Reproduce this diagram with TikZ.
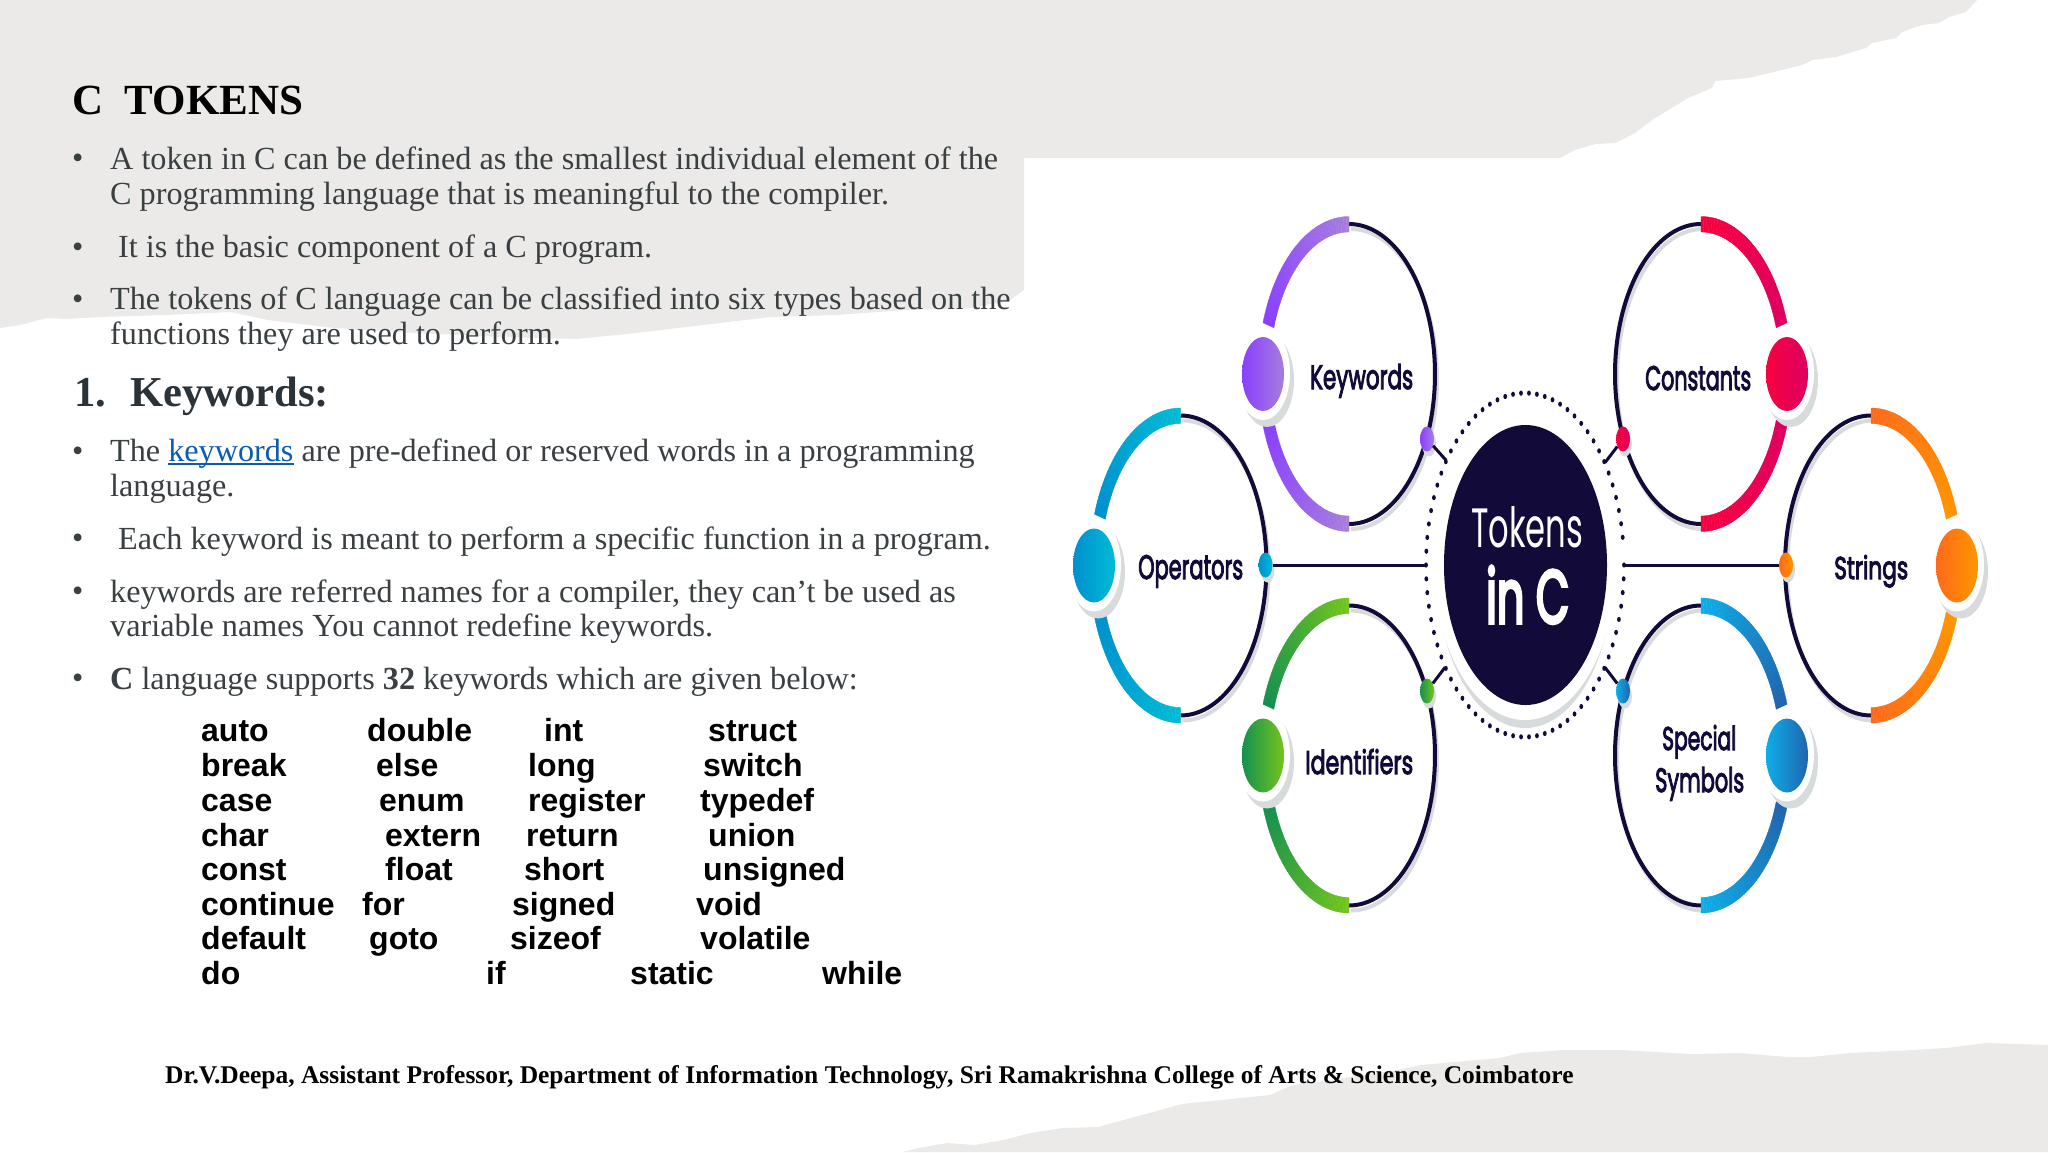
\documentclass[tikz,border=0pt]{standalone}
\usepackage{fontspec}
\usepackage{graphicx}
\usetikzlibrary{shapes.geometric}
\setmainfont{Liberation Serif}
\setsansfont{Liberation Sans}
\newfontfamily\labfont{Poppins}
\newfontfamily\labsemi[FakeBold=3.5]{Poppins}
\newfontfamily\labheavy[FakeBold=5]{Poppins}
\definecolor{paper}{HTML}{EBEAE8}
\definecolor{navy}{HTML}{120A38}
\definecolor{bodyc}{HTML}{3A3F42}
\definecolor{headc}{HTML}{2B3238}
\definecolor{linkc}{HTML}{0B5CAD}
\definecolor{softgrey}{HTML}{D8DBDC}
\definecolor{kwA}{HTML}{8A3FFF}\definecolor{kwB}{HTML}{A67EDC}
\definecolor{opA}{HTML}{0090CE}\definecolor{opB}{HTML}{00BBD5}
\definecolor{idA}{HTML}{159050}\definecolor{idB}{HTML}{72C51C}
\definecolor{coA}{HTML}{F70040}\definecolor{coB}{HTML}{DE0060}
\definecolor{stA}{HTML}{FF6A1A}\definecolor{stB}{HTML}{FF9500}
\definecolor{spA}{HTML}{0DAEE8}\definecolor{spB}{HTML}{2065AE}
\newlength\ulinkw
\newcommand\ulink[1]{\settowidth\ulinkw{#1}\rlap{\rule[-3.5pt]{\ulinkw}{2pt}}#1}
% thick tapered arc: cx cy t-from t-to colour-from colour-to
\newcommand\ringarc[6]{%
  \foreach \i in {0,...,39}{%
    \pgfmathsetmacro\ta{#3+(#4-#3)*\i/40}%
    \pgfmathsetmacro\tb{#3+(#4-#3)*(\i+1)/40}%
    \pgfmathsetmacro\pct{100*\i/39}%
    \colorlet{segc}{#6!\pct!#5}%
    \fill[segc,draw=segc,line width=.3pt] ({#1+91*cos(\ta)},{#2+157.5*sin(\ta)}) -- ({#1+91*cos(\tb)},{#2+157.5*sin(\tb)}) -- ({#1+79.5*cos(\tb)},{#2+142*sin(\tb)}) -- ({#1+79.5*cos(\ta)},{#2+142*sin(\ta)}) -- cycle;
  }}
% ring with thick part on the left: cx cy colour-gap colour-top
\newcommand\leftring[4]{%
  \draw[softgrey,line width=4pt] plot[domain=-90:90,samples=70] ({#1+2+86*cos(\x)},{#2+5+150*sin(\x)});
  \draw[navy,line width=4pt] plot[domain=-90:90,samples=70] ({#1+86*cos(\x)},{#2+150*sin(\x)});
  \ringarc{#1}{#2}{199}{270}{#3}{#4}
  \ringarc{#1}{#2}{161}{90}{#3}{#4}}
\newcommand\rightring[4]{%
  \draw[softgrey,line width=4pt] plot[domain=90:270,samples=70] ({#1+2+86*cos(\x)},{#2+5+150*sin(\x)});
  \draw[navy,line width=4pt] plot[domain=90:270,samples=70] ({#1+86*cos(\x)},{#2+150*sin(\x)});
  \ringarc{#1}{#2}{-19}{-90}{#3}{#4}
  \ringarc{#1}{#2}{19}{90}{#3}{#4}}
% fitted condensed label: width height text
\newcommand\fitb[3]{\resizebox{#1pt}{#2pt}{\labsemi #3}}
\tikzset{
  x=1pt,y=-1pt,
  body/.style={inner sep=0pt,anchor=base west,text=bodyc,font=\fontsize{32.2}{36}\selectfont},
  bul/.style={inner sep=0pt,anchor=base west,text=bodyc,font=\fontsize{32.2}{36}\selectfont},
  kw/.style={inner sep=0pt,anchor=base west,text=black,font=\sffamily\bfseries\fontsize{32}{36}\selectfont},
  lab/.style={inner sep=0pt,anchor=base west,text=navy},
  bigdot/.style={ellipse,inner sep=0pt,minimum width=42pt,minimum height=74pt},
  halo/.style={ellipse,inner sep=0pt,minimum width=54pt,minimum height=94pt,fill=#1},
  smalldot/.style={ellipse,inner sep=0pt,minimum width=14pt,minimum height=25pt},
  smallshadow/.style={ellipse,inner sep=0pt,minimum width=14pt,minimum height=25pt,fill=softgrey},
  conn/.style={navy,line width=3pt},
}
\begin{document}
\begin{tikzpicture}
\useasboundingbox (0,0) rectangle (2048,1152);
\fill[white] (0,0) rectangle (2048,1152);
% torn paper, top
\fill[paper] (0,0) -- (1977,0) -- (1966,12) -- (1949,17) -- (1939,23) -- (1922,25) -- (1902,32) -- (1896,38) -- (1872,43) -- (1866,48) -- (1836,57) -- (1812,60) -- (1802,65) -- (1749,78) -- (1715,81) -- (1712,88) -- (1688,98) -- (1652,120) -- (1635,133) -- (1615,143) -- (1595,144) -- (1575,150) -- (1560,158) -- (1024,158) -- (1024,290) -- (1010,300) -- (971,308) -- (904,310) -- (837,315) -- (770,317) -- (703,325) -- (636,333) -- (576,339) -- (502,337) -- (415,333) -- (335,328) -- (268,320) -- (231,312) -- (167,315) -- (100,317) -- (67,319) -- (47,318) -- (20,325) -- (0,328) -- cycle;
% torn paper, bottom
\fill[paper] (2048,1152) -- (2048,1045) -- (1986,1043) -- (1946,1048) -- (1914,1050) -- (1851,1053) -- (1811,1057) -- (1787,1057) -- (1739,1053) -- (1691,1054) -- (1620,1050) -- (1564,1050) -- (1520,1053) -- (1500,1058) -- (1421,1065) -- (1397,1070) -- (1317,1082) -- (1293,1085) -- (1270,1095) -- (1222,1100) -- (1182,1104) -- (1142,1115) -- (1098,1127) -- (1063,1128) -- (1031,1133) -- (1003,1140) -- (975,1145) -- (947,1143) -- (919,1148) -- (903,1152) -- cycle;

% ---------- left column text
\node[inner sep=0pt,anchor=base west,text=black,font=\bfseries\fontsize{43}{46}\selectfont] (title) at (72,114) {C\ \ TOKENS};
\node[bul] (b1) at (72,168) {\textbullet};
\node[body] (t1a) at (110,169) {A token in C can be defined as the smallest individual element of the};
\node[body] (t1b) at (110,204) {C programming language that is meaningful to the compiler.};
\node[bul] (b2) at (72,257) {\textbullet};
\node[body] (t2) at (118,257) {It is the basic component of a C program.};
\node[bul] (b3) at (72,309) {\textbullet};
\node[body] (t3a) at (110,309.5) {The tokens of C language can be classified into six types based on the};
\node[body] (t3b) at (110,344) {functions they are used to perform.};
\node[inner sep=0pt,anchor=base west,text=headc,font=\bfseries\fontsize{42.6}{46}\selectfont] (head) at (74,406) {1.\hspace{24pt}Keywords:};
\node[bul] (b4) at (72,461) {\textbullet};
\node[body] (t4a) at (110,461) {The \textcolor{linkc}{\ulink{keywords}} are pre-defined or reserved words in a programming};
\node[body] (t4b) at (110,496) {language.};
\node[bul] (b5) at (72,548) {\textbullet};
\node[body] (t5) at (118,549) {Each keyword is meant to perform a specific function in a program.};
\node[bul] (b6) at (72,601) {\textbullet};
\node[body] (t6a) at (110,602) {keywords are referred names for a compiler, they can’t be used as};
\node[body] (t6b) at (110,636) {variable names You cannot redefine keywords.};
\node[bul] (b7) at (72,688) {\textbullet};
\node[body] (t7) at (110,689) {\textbf{C} language supports \textbf{32} keywords which are given below:};

% ---------- keyword table
\node[kw] (k11) at (201,741) {auto};
\node[kw] (k12) at (367,741) {double};
\node[kw] (k13) at (544,741) {int};
\node[kw] (k14) at (708,741) {struct};
\node[kw] (k21) at (201,776) {break};
\node[kw] (k22) at (376,776) {else};
\node[kw] (k23) at (528,776) {long};
\node[kw] (k24) at (703,776) {switch};
\node[kw] (k31) at (201,811) {case};
\node[kw] (k32) at (379,811) {enum};
\node[kw] (k33) at (528,811) {register};
\node[kw] (k34) at (700,811) {typedef};
\node[kw] (k41) at (201,846) {char};
\node[kw] (k42) at (385,846) {extern};
\node[kw] (k43) at (526,846) {return};
\node[kw] (k44) at (708,846) {union};
\node[kw] (k51) at (201,880) {const};
\node[kw] (k52) at (385,880) {float};
\node[kw] (k53) at (524,880) {short};
\node[kw] (k54) at (703,880) {unsigned};
\node[kw] (k61) at (201,915) {continue};
\node[kw] (k62) at (362,915) {for};
\node[kw] (k63) at (512,915) {signed};
\node[kw] (k64) at (696,915) {void};
\node[kw] (k71) at (201,949) {default};
\node[kw] (k72) at (369,949) {goto};
\node[kw] (k73) at (510,949) {sizeof};
\node[kw] (k74) at (700,949) {volatile};
\node[kw] (k81) at (201,984) {do};
\node[kw] (k82) at (486,984) {if};
\node[kw] (k83) at (630,984) {static};
\node[kw] (k84) at (822,984) {while};

% ---------- footer
\node[inner sep=0pt,anchor=base west,text=black,font=\bfseries\fontsize{25.48}{30}\selectfont] (foot) at (165,1083.5) {Dr.V.Deepa, Assistant Professor, Department of Information Technology, Sri Ramakrishna College of Arts \& Science, Coimbatore};

% ---------- rings
\leftring{1349}{374}{kwA}{kwB}
\leftring{1180.5}{565.5}{opA}{opB}
\leftring{1349}{755.5}{idA}{idB}
\rightring{1701}{374}{coB}{coA}
\rightring{1871}{565.5}{stB}{stA}
\rightring{1701}{755.5}{spB}{spA}

% ---------- halos and big bullets
\foreach \bx/\by/\ca/\cb/\nm in {1263/374/kwA/kwB/bk,1094/565.5/opA/opB/bo,1263/755.5/idA/idB/bi,1787/374/coA/coB/bc,1957/565.5/stA/stB/bs,1787/755.5/spA/spB/bp}{
  \node[halo=softgrey] at (\bx+4,\by+6) {};
  \node[halo=white] at (\bx,\by-1) {};
  \node[bigdot,left color=\ca,right color=\cb] (\nm) at (\bx,\by) {};
}

% ---------- hub
\node[ellipse,inner sep=0pt,minimum width=176pt,minimum height=310pt,fill=softgrey] (hubshadow) at (1525,573) {};
\node[ellipse,inner sep=0pt,minimum width=182pt,minimum height=314pt,fill=white] (hubwhite) at (1525,563) {};
\node[ellipse,inner sep=0pt,minimum width=198pt,minimum height=344pt] (ring) at (1525,565) {};
\foreach \a in {0,4.615,...,355}{
  \fill[navy] ({1525+99*cos(\a)},{565+172*sin(\a)}) ellipse [x radius=1.9pt,y radius=2.6pt];
}
\node[ellipse,inner sep=0pt,minimum width=163pt,minimum height=280pt,fill=navy] (hub) at (1525.5,565) {};
\node[inner sep=0pt,anchor=base west,text=white] (tok) at (1471,547) {\resizebox{112pt}{41pt}{\labfont Tokens}};
\node[inner sep=0pt,anchor=base west,text=white] (inc) at (1486,623) {\resizebox{83pt}{57pt}{\labheavy in C}};

% ---------- small dots and connectors
\foreach \bx/\by/\ca/\cb/\nm in {1427/439/kwA/kwB/dk,1265.5/565/opA/opB/do,1427/691/idA/idB/di,1623/439/coA/coB/dc,1786/565/stA/stB/ds,1623/691/spA/spB/dp}{
  \node[smallshadow] at (\bx+2,\by+5) {};
  \node[smalldot,left color=\ca,right color=\cb] (\nm) at (\bx,\by) {};
}
\draw[conn] (dk) -- (ring.127);
\draw[conn] (do) -- (ring.180);
\draw[conn] (di) -- (ring.232);
\draw[conn] (dc) -- (ring.52);
\draw[conn] (ds) -- (ring.0);
\draw[conn] (dp) -- (ring.308);

% ---------- labels
\node[lab] (lk) at (1310,389) {\fitb{103}{25}{Keywords}};
\node[lab] (lo) at (1138,579) {\fitb{105}{24}{Operators}};
\node[lab] (li) at (1305,774) {\fitb{108}{25}{Identifiers}};
\node[lab] (lc) at (1645,390) {\fitb{106}{24}{Constants}};
\node[lab] (ls) at (1834,579) {\fitb{74}{24}{Strings}};
\node[lab] (lp) at (1662,750) {\fitb{74}{25}{Special}};
\node[lab] (ly) at (1655,792) {\fitb{89}{25}{Symbols}};
\end{tikzpicture}
\end{document}
